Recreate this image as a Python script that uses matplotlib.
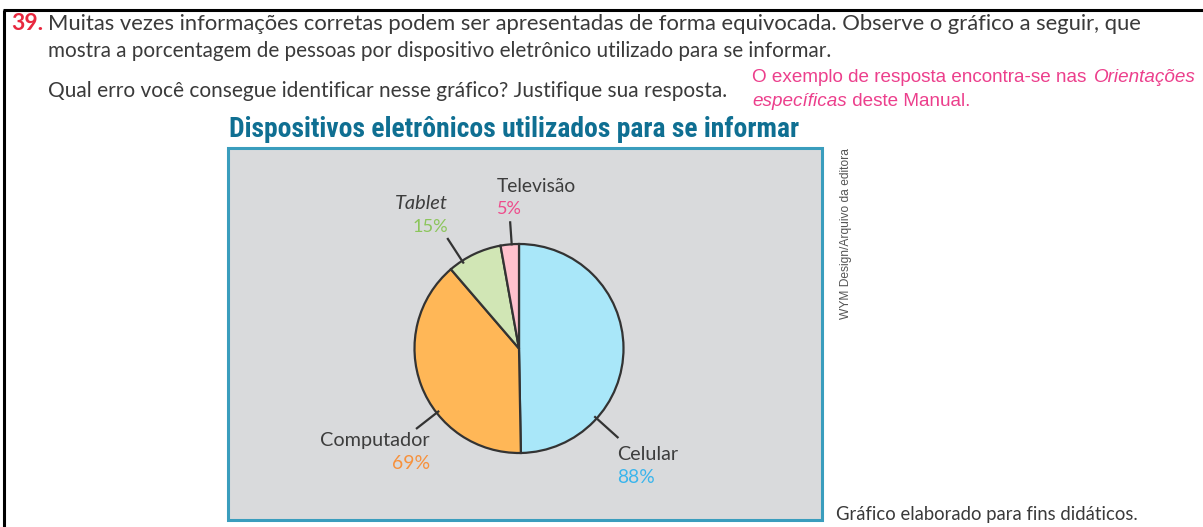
import numpy as np
import matplotlib
matplotlib.use("Agg")
import matplotlib.pyplot as plt
from matplotlib.patches import Rectangle
from matplotlib import font_manager

# ---- data ----
categories = ["Celular", "Computador", "Tablet", "Televisão"]
percent_labels = [88, 69, 15, 5]
slice_colors = ["#a9e7f9", "#ffb757", "#d1e6b5", "#ffc1cd"]
label_colors = ["#3bb5ec", "#f7913c", "#8cc55c", "#ee4c8c"]

W, H = 1203, 527
fig = plt.figure(figsize=(W / 100, H / 100), dpi=100)
fig.patch.set_facecolor("white")

# pixel-space canvas for the page
pg = fig.add_axes([0, 0, 1, 1])
pg.set_xlim(0, W)
pg.set_ylim(H, 0)
pg.axis("off")

renderer = fig.canvas.get_renderer()

BODY = ["Lato", "DejaVu Sans"]
ARIAL = ["Liberation Sans", "DejaVu Sans"]
TXT = "#3a3a3a"

installed = {f.name for f in font_manager.fontManager.ttflist}
TITLE_FONT = [f for f in ["Roboto Condensed", "Liberation Sans Narrow", "Roboto"]
              if f in installed] + ["DejaVu Sans"]


def fit(x, y, s, width, size=14, ha="left", va="baseline", **kw):
    """Place text and scale its size so it spans `width` pixels along its run."""
    t = pg.text(x, y, s, fontsize=size, ha=ha, va=va, **kw)
    bb = t.get_window_extent(renderer)
    w = bb.height if kw.get("rotation", 0) in (90, 270) else bb.width
    t.set_fontsize(size * width / w)
    return t


# page frame
pg.plot([3, W], [10, 10], color="black", lw=2.2, solid_capstyle="butt")
pg.plot([3.5, 3.5], [10, H], color="black", lw=2.2, solid_capstyle="butt")

# question text
fit(11, 30, "39.", 32, color="#e8283f", family=BODY, fontweight="bold")
fit(48, 30, "Muitas vezes informações corretas podem ser apresentadas de forma equivocada. "
    "Observe o gráfico a seguir, que", 1102, color=TXT, family=BODY)
fit(48, 57, "mostra a porcentagem de pessoas por dispositivo eletrônico utilizado para se informar.",
    785, color=TXT, family=BODY)
fit(48, 97, "Qual erro você consegue identificar nesse gráfico? Justifique sua resposta.",
    680, color=TXT, family=BODY)

# answer note, partly italic
PINK = "#ec3f8c"
t1 = fit(752, 82, "O exemplo de resposta encontra-se nas ", 342, size=12,
         color=PINK, family=ARIAL)
fs = t1.get_fontsize()
pg.text(752 + 342, 82, "Orientações", fontsize=fs, color=PINK, family=ARIAL,
        style="italic", va="baseline")
t2 = pg.text(752, 106, "específicas", fontsize=fs, color=PINK, family=ARIAL,
             style="italic", va="baseline")
w2 = t2.get_window_extent(renderer).width
pg.text(752 + w2, 106, " deste Manual.", fontsize=fs, color=PINK, family=ARIAL,
        va="baseline")

# chart title
fit(229, 137, "Dispositivos eletrônicos utilizados para se informar", 571, size=18,
    color="#0f6f92", family=TITLE_FONT, fontweight="bold")

# chart panel
pg.add_patch(Rectangle((228, 148), 594, 372, facecolor="#d9dadc",
                       edgecolor="#3a9dbd", lw=2.2, zorder=1))

# credit and source
fit(846, 148, "WYM Design/Arquivo da editora", 172, size=8, color="#555555",
    family=ARIAL, rotation=90, ha="center", va="top")
fit(836, 520, "Gráfico elaborado para fins didáticos.", 304, color=TXT, family=BODY)

# ---- pie ----
cx, cy, r = 519, 348.5, 104.5
pa = fig.add_axes([(cx - r) / W, 1 - (cy + r) / H, 2 * r / W, 2 * r / H])
pa.patch.set_visible(False)
wedges, _ = pa.pie(percent_labels, colors=slice_colors, startangle=90,
                   counterclock=False,
                   wedgeprops=dict(edgecolor="#333333", linewidth=1.6))
pa.set_xlim(-1, 1)
pa.set_ylim(-1, 1)
pa.axis("off")

# leader lines (angle in degrees, inner and outer radius)
leaders = [(-42, 0.98, 1.27), (218, 0.98, 1.24), (123, 0.98, 1.25), (94.0, 1.0, 1.21)]
for ang, r0, r1 in leaders:
    a = np.deg2rad(ang)
    pa.plot([r0 * np.cos(a), r1 * np.cos(a)], [r0 * np.sin(a), r1 * np.sin(a)],
            color="#333333", lw=1.6, clip_on=False)

# slice labels: name x, name baseline, name width, value x, value baseline, value width
label_layout = [
    (617, 460, 61, 617, 483, 38, "left", "normal"),
    (320, 446, 110, 430, 469, 38, "right", "normal"),
    (395, 209, 53, 448, 232, 36, "right", "italic"),
    (497, 192, 80, 497, 214, 25, "left", "normal"),
]
for name, val, col, lay in zip(categories, percent_labels, label_colors, label_layout):
    nx, ny, nw, vx, vy, vw, al, st = lay
    fit(nx, ny, name, nw, color="#3d3d3d", family=BODY, style=st, zorder=3)
    fit(vx, vy, f"{val}%", vw, color=col, family=BODY, ha=al, zorder=3)

fig.savefig("out.png", dpi=100, facecolor="white")
